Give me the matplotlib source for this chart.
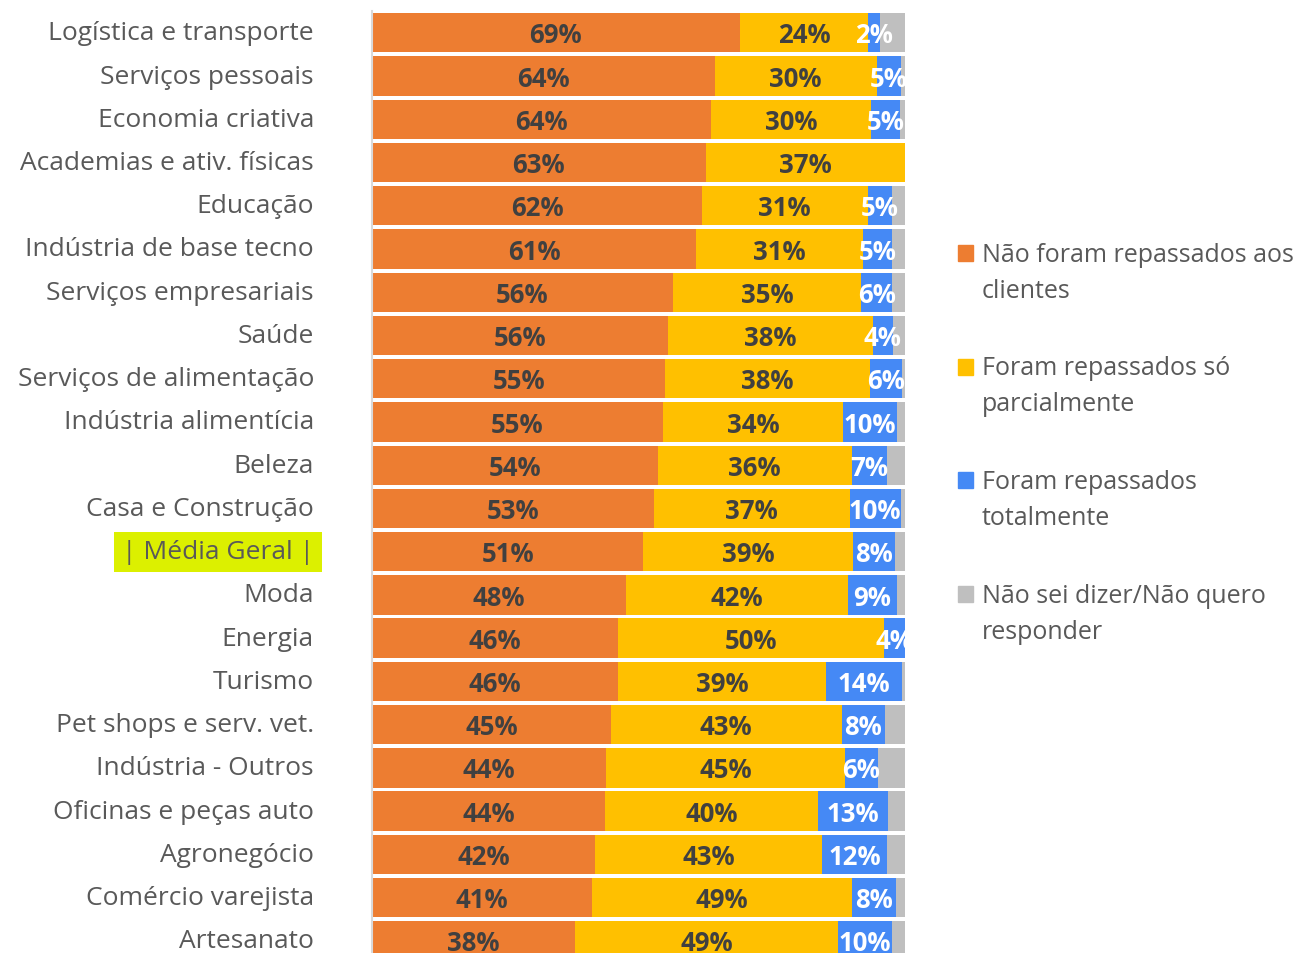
import matplotlib.pyplot as plt
import matplotlib.patches as mpatches
import numpy as np

plt.rcParams['font.family'] = ['Open Sans', 'DejaVu Sans']

categories = ['Logística e transporte', 'Serviços pessoais', 'Economia criativa',
              'Academias e ativ. físicas', 'Educação', 'Indústria de base tecno',
              'Serviços empresariais', 'Saúde', 'Serviços de alimentação',
              'Indústria alimentícia', 'Beleza', 'Casa e Construção', '| Média Geral |',
              'Moda', 'Energia', 'Turismo', 'Pet shops e serv. vet.', 'Indústria - Outros',
              'Oficinas e peças auto', 'Agronegócio', 'Comércio varejista', 'Artesanato']

nao_repassados = [69.0, 64.3, 63.6, 62.6, 61.9, 60.8, 56.4, 55.6, 55.0, 54.6, 53.6,
                  52.9, 50.9, 47.7, 46.2, 46.2, 44.8, 43.9, 43.7, 41.8, 41.2, 38.1]
parcialmente = [24.1, 30.4, 30.1, 37.4, 31.1, 31.4, 35.4, 38.4, 38.4, 33.7, 36.4,
                36.7, 39.4, 41.6, 49.8, 39.0, 43.3, 44.8, 39.9, 42.7, 48.9, 49.3]
totalmente = [2.2, 4.6, 5.4, 0.0, 4.6, 5.3, 5.8, 3.7, 6.0, 10.2, 6.6,
              9.6, 7.8, 9.2, 4.0, 14.3, 8.1, 6.2, 13.2, 12.1, 8.2, 10.2]
nao_sei = [4.7, 0.7, 0.9, 0.0, 2.4, 2.5, 2.4, 2.3, 0.6, 1.5, 3.4,
           0.8, 1.9, 1.5, 0.0, 0.5, 3.8, 5.1, 3.2, 3.4, 1.7, 2.4]

series_names = ['Não foram repassados aos\nclientes', 'Foram repassados só\nparcialmente',
                'Foram repassados\ntotalmente', 'Não sei dizer/Não quero\nresponder']
colors = ['#ED7D31', '#FFC000', '#4589F5', '#BFBFBF']
label_colors = ['#404040', '#404040', 'white', None]

W, H = 1297, 954
fig = plt.figure(figsize=(W / 100, H / 100), dpi=100)
ax = fig.add_axes([372 / W, -9.4 / H, 533 / W, 951.2 / H])

y = np.arange(len(categories))
left = np.zeros(len(categories))
for vals, color, lc in zip([nao_repassados, parcialmente, totalmente, nao_sei], colors, label_colors):
    vals = np.array(vals)
    ax.barh(y, vals, left=left, height=0.91, color=color)
    if lc is not None:
        for yi, (l, v) in enumerate(zip(left, vals)):
            if v > 0:
                ax.text(l + v / 2, yi + 0.05, f'{v:.0f}%', ha='center', va='center',
                        fontsize=18.5, fontweight='bold', color=lc, clip_on=True)
    left += vals

ax.set_xlim(0, 100)
ax.set_ylim(len(categories) - 0.5, -0.5)
ax.set_xticks([])
ax.set_yticks([])
for s in ['top', 'right', 'bottom']:
    ax.spines[s].set_visible(False)
ax.spines['left'].set_color('#D9D9D9')
ax.spines['left'].set_linewidth(1.5)

# rótulos das categorias
for yi, cat in zip(y, categories):
    t = ax.text(-58 / 533, yi, cat, transform=ax.get_yaxis_transform(),
                ha='right', va='center', fontsize=19, color='#595959')
    if 'Média' in cat:
        t.set_bbox(dict(facecolor='#DCF000', edgecolor='none', pad=5.5))

# legenda manual
for i, (name, color) in enumerate(zip(series_names, colors)):
    yc = 254 + i * 113.7
    fig.add_artist(mpatches.Rectangle((958 / W, 1 - (yc + 8) / H), 15 / W, 16 / H,
                                      transform=fig.transFigure, color=color))
    for j, line in enumerate(name.split('\n')):
        fig.text(982 / W, 1 - (yc + 1 + j * 36) / H, line, fontsize=18,
                 color='#595959', va='center', ha='left')

fig.savefig('out.png', dpi=100)
